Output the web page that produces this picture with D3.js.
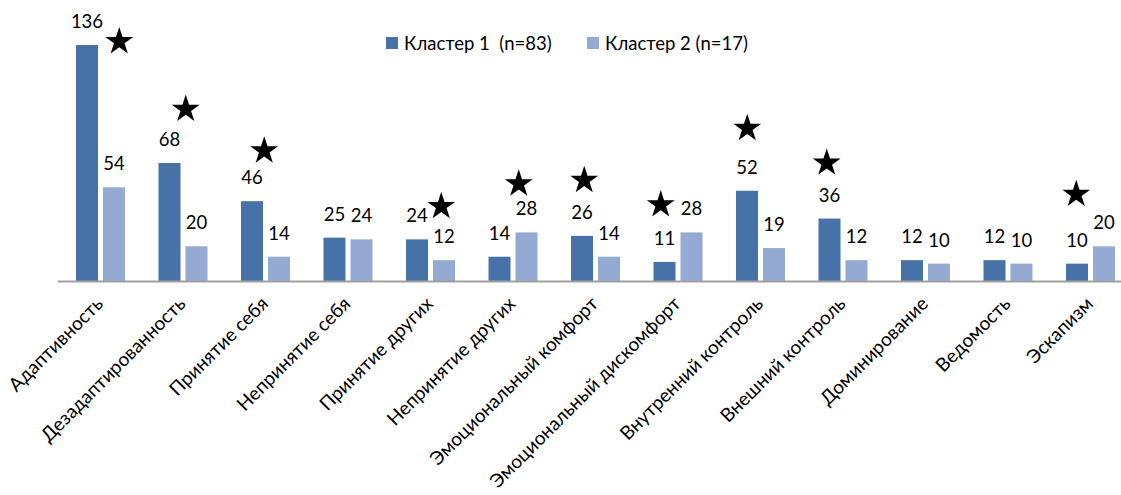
<!DOCTYPE html>
<html>
<head>
<meta charset="utf-8">
<script src="https://cdn.jsdelivr.net/npm/d3@7"></script>
<style>
  body { margin: 0; background: #fff; }
  svg { display: block; font-family: Lato, "Open Sans", sans-serif; }
</style>
</head>
<body>
<div class="chart"></div>
<script>
const categories = ['Адаптивность', 'Дезадаптированность', 'Принятие себя', 'Непринятие себя',
  'Принятие других', 'Непринятие других', 'Эмоциональный комфорт', 'Эмоциональный дискомфорт',
  'Внутренний контроль', 'Внешний контроль', 'Доминирование', 'Ведомость', 'Эскапизм'];
const seriesNames = ['Кластер 1  (n=83)', 'Кластер 2 (n=17)'];
const cluster1 = [136, 68, 46, 25, 24, 14, 26, 11, 52, 36, 12, 12, 10];
const cluster2 = [54, 20, 14, 24, 12, 28, 14, 28, 19, 12, 10, 10, 20];

// significance stars: category and height (in value units)
const starCats = [0, 1, 2, 4, 5, 6, 7, 8, 9, 12];
const starLevels = [138, 99, 75, 43, 56, 58, 44, 88, 68, 50];
// horizontal nudge of each star from the group centre, px
const starShift = [20, 4, 0, 12, 7, -10, -16, -12, -15, -13];

const colors = ['#4672a8', '#95aad3'];

const width = 1121, height = 495;
const svg = d3.select('.chart').append('svg')
  .attr('width', width).attr('height', height);

const baseY = 281;
const x0 = d3.scaleBand().domain(categories).range([58, 58 + 13 * 82.5]);
const x1 = d3.scaleBand().domain([0, 1]).range([18, 67]).paddingInner(0.185);
const y = d3.scaleLinear().domain([0, 140]).range([baseY, baseY - 140 * 1.735]);

const rows = categories.map((c, i) => ({ cat: c, vals: [cluster1[i], cluster2[i]] }));

const groups = svg.selectAll('g.grp').data(rows).enter().append('g')
  .attr('class', 'grp')
  .attr('transform', d => `translate(${x0(d.cat)},0)`);

groups.selectAll('rect').data(d => d.vals.map((v, s) => ({ v, s }))).enter().append('rect')
  .attr('x', d => x1(d.s))
  .attr('width', x1.bandwidth())
  .attr('y', d => y(d.v))
  .attr('height', d => baseY - y(d.v))
  .style('fill', d => colors[d.s]);

groups.selectAll('text.val').data(d => d.vals.map((v, s) => ({ v, s }))).enter().append('text')
  .attr('class', 'val')
  .attr('x', d => x1(d.s) + x1.bandwidth() / 2)
  .attr('y', d => y(d.v) - 17)
  .attr('text-anchor', 'middle')
  .style('font-size', '18.5px')
  .style('fill', '#000')
  .text(d => d.v);

// axis baseline
svg.append('line')
  .attr('x1', 58).attr('x2', width)
  .attr('y1', baseY + 0.5).attr('y2', baseY + 0.5)
  .style('stroke', '#a0a0a0').style('stroke-width', 1.8);

// category labels
svg.selectAll('text.cat').data(categories).enter().append('text')
  .attr('class', 'cat')
  .attr('text-anchor', 'end')
  .attr('transform', d => `translate(${x0(d) + x0.bandwidth() / 2 + 5},${baseY + 24}) rotate(-45)`)
  .style('font-size', '19px')
  .style('fill', '#000')
  .text(d => d);

// stars
const star = d3.symbol().type(d3.symbolStar).size(240);
svg.selectAll('path.star').data(starCats).enter().append('path')
  .attr('class', 'star')
  .attr('d', star)
  .attr('transform', (c, i) => `translate(${x0(categories[c]) + x0.bandwidth() / 2 + starShift[i]},${y(starLevels[i])})`)
  .style('fill', '#000');

// legend
const legendX = [386, 587];
const leg = svg.selectAll('g.leg').data(seriesNames).enter().append('g')
  .attr('class', 'leg')
  .attr('transform', (d, i) => `translate(${legendX[i]},37)`);
leg.append('rect').attr('width', 12).attr('height', 12).style('fill', (d, i) => colors[i]);
leg.append('text')
  .attr('x', 18).attr('y', 13)
  .style('font-size', '18.5px')
  .style('white-space', 'pre')
  .text(d => d);
</script>
</body>
</html>
